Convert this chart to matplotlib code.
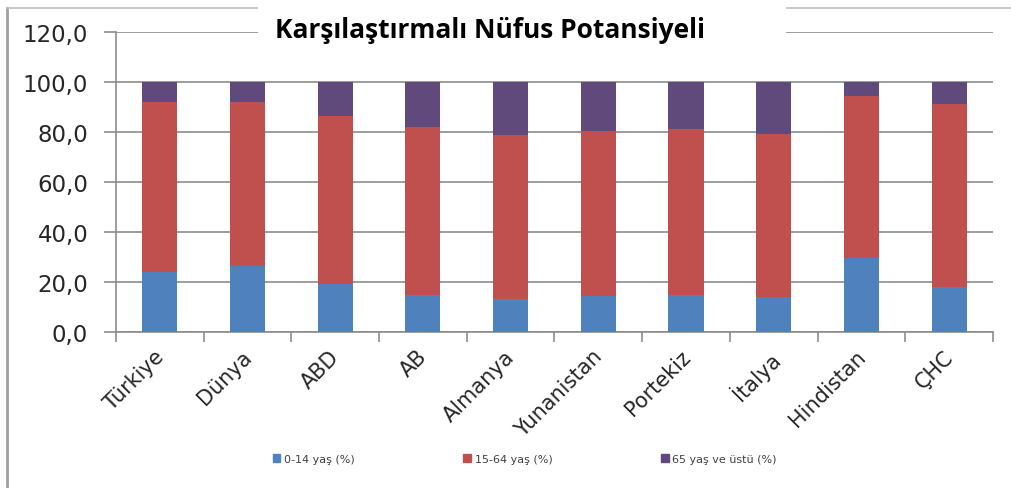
import matplotlib.pyplot as plt
from matplotlib.patches import Rectangle, Patch
from matplotlib.lines import Line2D
from matplotlib.transforms import ScaledTranslation
import numpy as np

countries = ["Türkiye", "Dünya", "ABD", "AB", "Almanya", "Yunanistan",
             "Portekiz", "İtalya", "Hindistan", "ÇHC"]
age_0_14 = [24.1, 26.3, 19.2, 14.9, 13.1, 14.3, 14.8, 13.9, 29.5, 17.9]
age_15_64 = [68.0, 65.8, 67.1, 67.0, 65.7, 66.2, 66.4, 65.3, 65.0, 73.3]
age_65 = [7.9, 7.9, 13.7, 18.1, 21.2, 19.5, 18.8, 20.8, 5.5, 8.8]
labels = ["0-14 yaş (%)", "15-64 yaş (%)", "65 yaş ve üstü (%)"]
colors = ["#4F81BD", "#C0504D", "#604A7B"]
yticks = [0, 20, 40, 60, 80, 100, 120]

fig = plt.figure(figsize=(10.11, 4.89), dpi=100)
ax = fig.add_axes([0.1147, 0.319, 0.8675, 0.6135])

x = np.arange(len(countries))
w = 0.40
b1 = np.array(age_0_14)
b2 = b1 + np.array(age_15_64)
ax.bar(x, age_0_14, w, color=colors[0], zorder=3)
ax.bar(x, age_15_64, w, bottom=b1, color=colors[1], zorder=3)
ax.bar(x, age_65, w, bottom=b2, color=colors[2], zorder=3)

ax.set_xlim(-0.5, len(countries) - 0.5)
ax.set_ylim(0, 120)
ax.set_yticks(yticks)
ax.set_yticklabels([f"{v:.1f}".replace(".", ",") for v in yticks],
                   fontsize=16.5, color="#262626")
ax.yaxis.grid(True, color="#8c8c8c", linewidth=1.2, zorder=0)
ax.tick_params(axis="y", length=9, width=1.2, color="#8c8c8c", pad=11)

# category boundaries get the tick marks, labels sit at the centres
ax.set_xticks(np.arange(len(countries) + 1) - 0.5)
ax.set_xticklabels([])
ax.tick_params(axis="x", which="major", length=7, width=1.2, color="#8c8c8c")
ax.set_xticks(x, minor=True)
ax.set_xticklabels(countries, minor=True, rotation=45, ha="right", va="top",
                   rotation_mode="anchor", fontsize=15, color="#262626")
ax.tick_params(axis="x", which="minor", length=0, pad=10)
shift = ScaledTranslation(-6 / 100, 0, fig.dpi_scale_trans)
for lab in ax.get_xticklabels(minor=True):
    lab.set_transform(lab.get_transform() + shift)

for s in ["top", "right"]:
    ax.spines[s].set_visible(False)
for s in ["left", "bottom"]:
    ax.spines[s].set_color("#8c8c8c")
    ax.spines[s].set_linewidth(1.2)

# outer chart frame (left and top edges visible)
fig.add_artist(Line2D([0.007, 0.007], [0, 0.981], color="#a0a0a0", lw=2))
fig.add_artist(Line2D([0.007, 1], [0.981, 0.981], color="#c0c0c0", lw=1.2))

# white box behind the title
fig.add_artist(Rectangle((0.255, 0.905), 0.522, 0.095, transform=fig.transFigure,
                         facecolor="white", edgecolor="none", zorder=2))
fig.text(0.485, 0.937, "Karşılaştırmalı Nüfus Potansiyeli", ha="center", va="center",
         fontsize=19, fontweight="bold", family="Open Sans", zorder=3)

handles = [Patch(color=c) for c in colors]
fig.legend(handles, labels, loc="center", bbox_to_anchor=(0.519, 0.059), ncol=3,
           frameon=False, fontsize=8, handlelength=0.7, handleheight=0.7,
           handletextpad=0.3, columnspacing=9.8, labelcolor="#404040")

fig.savefig("out.png", dpi=100)
